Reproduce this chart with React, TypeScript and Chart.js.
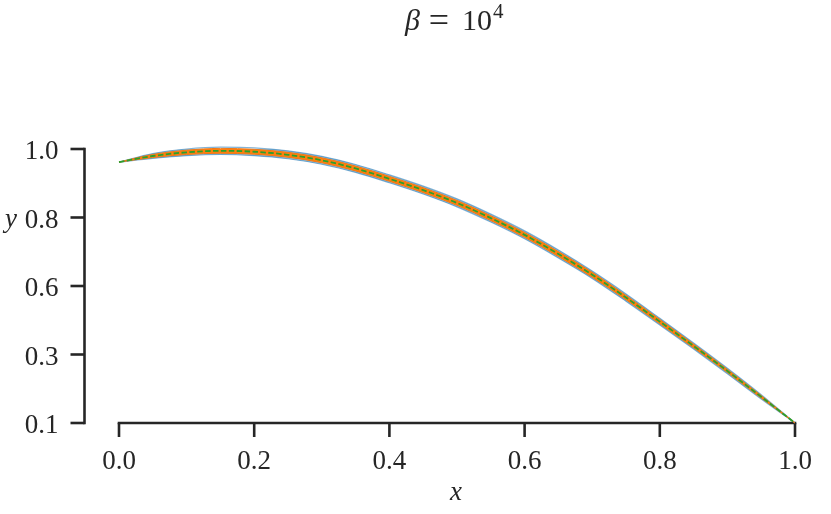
import React, { useEffect, useRef } from "react";
import { Chart, registerables } from "chart.js";

Chart.register(...registerables);

// ---- data ----
const xValues = [0, 0.05, 0.1, 0.15, 0.2, 0.25, 0.3, 0.35, 0.4, 0.45, 0.5, 0.55, 0.6, 0.65, 0.7, 0.75, 0.8, 0.85, 0.9, 0.95, 1.0];
const meanValues = [0.957, 0.977, 0.989, 0.994, 0.991, 0.981, 0.963, 0.936, 0.902, 0.865, 0.823, 0.773, 0.718, 0.655, 0.587, 0.512, 0.433, 0.353, 0.271, 0.186, 0.100];
const blueSpread = [0, 0.008, 0.011, 0.012, 0.013, 0.013, 0.013, 0.013, 0.013, 0.013, 0.013, 0.013, 0.013, 0.013, 0.012, 0.012, 0.011, 0.010, 0.009, 0.007, 0];
const orangeSpread = [0, 0.005, 0.007, 0.008, 0.008, 0.008, 0.008, 0.008, 0.008, 0.008, 0.008, 0.008, 0.008, 0.008, 0.008, 0.007, 0.007, 0.006, 0.005, 0.004, 0];

const xTicks = [0, 0.2, 0.4, 0.6, 0.8, 1.0];
const xTickLabels = ["0.0", "0.2", "0.4", "0.6", "0.8", "1.0"];
const yTicks = [0.1, 0.325, 0.55, 0.775, 1.0];
const yTickLabels = ["0.1", "0.3", "0.6", "0.8", "1.0"];

const titleSymbol = "β";
const titleBase = "10";
const titleExponent = "4";
const xLabel = "x";
const yLabel = "y";

const SPINE = "#262626";
const SERIF = '"Liberation Serif", "DejaVu Serif", serif';

const axesPlugin = {
  id: "offsetAxes",
  beforeDatasetsDraw(chart: any) {
    const { ctx, chartArea, scales } = chart;
    const xs = scales.x;
    const ys = scales.y;
    const spineX = chartArea.left - 34.5;
    const spineY = ys.getPixelForValue(yTicks[0]);
    ctx.save();
    ctx.strokeStyle = SPINE;
    ctx.lineWidth = 2.6;
    ctx.lineCap = "square";
    ctx.beginPath();
    ctx.moveTo(spineX, ys.getPixelForValue(yTicks[yTicks.length - 1]));
    ctx.lineTo(spineX, ys.getPixelForValue(yTicks[0]));
    ctx.stroke();
    ctx.beginPath();
    ctx.moveTo(xs.getPixelForValue(xTicks[0]), spineY);
    ctx.lineTo(xs.getPixelForValue(xTicks[xTicks.length - 1]), spineY);
    ctx.stroke();
    ctx.lineCap = "butt";
    ctx.font = `27px ${SERIF}`;
    ctx.fillStyle = SPINE;
    yTicks.forEach((v, i) => {
      const py = ys.getPixelForValue(v);
      ctx.beginPath();
      ctx.moveTo(spineX, py);
      ctx.lineTo(spineX - 14, py);
      ctx.stroke();
      ctx.textAlign = "right";
      ctx.textBaseline = "alphabetic";
      ctx.fillText(yTickLabels[i], spineX - 26, py + 10);
    });
    xTicks.forEach((v, i) => {
      const px = xs.getPixelForValue(v);
      ctx.beginPath();
      ctx.moveTo(px, spineY);
      ctx.lineTo(px, spineY + 14);
      ctx.stroke();
      ctx.textAlign = "center";
      ctx.textBaseline = "alphabetic";
      ctx.fillText(xTickLabels[i], px, spineY + 46);
    });
    ctx.font = `italic 27px ${SERIF}`;
    ctx.textAlign = "left";
    ctx.fillText(yLabel, 5, 227);
    const cx = (chartArea.left + chartArea.right) / 2;
    ctx.textAlign = "center";
    ctx.fillText(xLabel, cx - 1, 500);
    // title
    ctx.font = `italic 30px ${SERIF}`;
    ctx.textAlign = "left";
    ctx.fillText(titleSymbol, cx - 52, 30);
    ctx.font = `36px ${SERIF}`;
    ctx.textAlign = "center";
    ctx.fillText("=", cx - 18, 32);
    ctx.font = `30px ${SERIF}`;
    ctx.textAlign = "left";
    ctx.fillText(titleBase, cx + 5, 30);
    const w = ctx.measureText(titleBase).width;
    ctx.font = `21px ${SERIF}`;
    ctx.fillText(titleExponent, cx + 6 + w, 18);
    ctx.restore();
  },
};

export default function App() {
  const canvasRef = useRef<HTMLCanvasElement | null>(null);

  useEffect(() => {
    let chart: Chart | null = null;
    let cancelled = false;
    const fonts = [
      `27px "Liberation Serif"`,
      `italic 27px "Liberation Serif"`,
      `30px "Liberation Serif"`,
    ];
    const build = () => {
      if (cancelled || !canvasRef.current) return;
      const pts = (arr: number[]) => xValues.map((x, i) => ({ x, y: arr[i] }));
      const blueLower = meanValues.map((m, i) => m - blueSpread[i]);
      const blueUpper = meanValues.map((m, i) => m + blueSpread[i]);
      const orangeLower = meanValues.map((m, i) => m - orangeSpread[i]);
      const orangeUpper = meanValues.map((m, i) => m + orangeSpread[i]);
      const common = {
        pointRadius: 0,
        pointHoverRadius: 0,
        cubicInterpolationMode: "monotone" as const,
        clip: false as any,
      };
      chart = new Chart(canvasRef.current, {
        type: "line",
        data: {
          datasets: [
            { ...common, order: 3, data: pts(blueLower), borderColor: "rgba(31,119,180,0.55)", borderWidth: 1.2, fill: false },
            { ...common, order: 3, data: pts(blueUpper), borderColor: "rgba(31,119,180,0.55)", borderWidth: 1.2, fill: "-1", backgroundColor: "rgba(31,119,180,0.45)" },
            { ...common, order: 2, data: pts(orangeLower), borderColor: "rgba(240,120,20,1)", borderWidth: 1, fill: false },
            { ...common, order: 2, data: pts(orangeUpper), borderColor: "rgba(240,120,20,1)", borderWidth: 1, fill: "-1", backgroundColor: "rgba(255,127,14,1)" },
            { ...common, order: 1, data: pts(meanValues), borderColor: "#2ca02c", borderWidth: 1.8, borderDash: [5.5, 2.4], fill: false },
          ],
        },
        options: {
          animation: false,
          responsive: false,
          devicePixelRatio: 1,
          layout: { padding: { left: 119, right: 36, top: 149, bottom: 91 } },
          plugins: { legend: { display: false }, tooltip: { enabled: false }, title: { display: false } },
          events: [],
          scales: {
            x: { type: "linear", min: 0, max: 1, display: false },
            y: { type: "linear", min: 0.1, max: 1.0, display: false },
          },
        },
        plugins: [axesPlugin],
      });
    };
    const fs: any = (document as any).fonts;
    if (fs && fs.load) {
      Promise.all(fonts.map((f) => fs.load(f))).then(build, build);
    } else {
      build();
    }
    return () => {
      cancelled = true;
      if (chart) chart.destroy();
    };
  }, []);

  return (
    <div style={{ position: "fixed", left: 0, top: 0, width: 831, height: 514, background: "#fff" }}>
      <canvas ref={canvasRef} width={831} height={514} style={{ display: "block" }} />
    </div>
  );
}
